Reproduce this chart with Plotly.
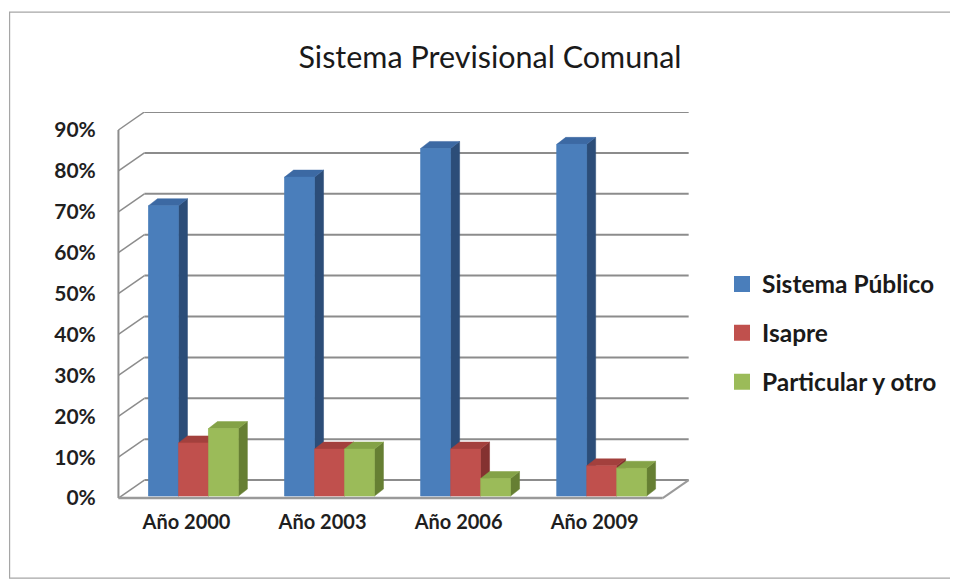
import plotly.graph_objects as go

# ---------------- data ----------------
categories = ["Año 2000", "Año 2003", "Año 2006", "Año 2009"]
series_names = ["Sistema Público", "Isapre", "Particular y otro"]
sistema_publico = [0.71, 0.78, 0.85, 0.86]
isapre = [0.13, 0.115, 0.115, 0.074]
particular = [0.165, 0.115, 0.043, 0.068]
y_tick_values = [0.0, 0.1, 0.2, 0.3, 0.4, 0.5, 0.6, 0.7, 0.8, 0.9]
y_tick_labels = ["0%", "10%", "20%", "30%", "40%", "50%", "60%", "70%", "80%", "90%"]
title_text = "Sistema Previsional Comunal"

# ---------------- styles / geometry ----------------
PAGE_OFF = 8           # default body margin of the html page
FIG_W, FIG_H = 958 - PAGE_OFF, 582 - PAGE_OFF
PX_X = 136.25          # px per category unit (front plane)
PX_Y = 409.0           # px per 1.0 (100%)
ORIGIN_PX = (118 - PAGE_OFF, 498 - PAGE_OFF)  # front-plane origin in figure px
XMIN, XMAX = -0.04, 4.23
YMIN, YMAX = -0.012, 0.944

DXW = 26 / PX_X        # wall / floor depth
DYW = 18 / PX_Y
BAR_W = 30 / PX_X
BAR_SHIFT = 7 / PX_X
BAR_BASE = 2 / PX_Y
BAR_DX = 9 / PX_X
BAR_DY = 7 / PX_Y

FONT = "Lato"
GRID_COLOR = "#8c8c8c"
colors = {
    "front": ["#4A7EBB", "#C0504D", "#9BBB59"],
    "top":   ["#3C69A3", "#A3403D", "#84A247"],
    "side":  ["#2C4D78", "#843130", "#667F33"],
}

L = ORIGIN_PX[0] + XMIN * PX_X
plot_w = (XMAX - XMIN) * PX_X
R = FIG_W - L - plot_w
T = ORIGIN_PX[1] - YMAX * PX_Y
Bpx = ORIGIN_PX[1] - YMIN * PX_Y
B = FIG_H - Bpx
plot_h = Bpx - T

values = [sistema_publico, isapre, particular]
n_cat = len(categories)

fig = go.Figure()

# underlying bar traces (front faces), covered by the 3D faces drawn below
for s, (name, vals) in enumerate(zip(series_names, values)):
    fig.add_trace(go.Bar(
        x=[k + 0.5 + BAR_SHIFT for k in range(n_cat)],
        y=vals, base=BAR_BASE, width=BAR_W, offset=-1.5 * BAR_W + s * BAR_W,
        marker=dict(color=colors["front"][s], line=dict(width=0)),
        name=name, showlegend=False, hoverinfo="skip",
    ))


def poly(points_list):
    xs, ys = [], []
    for pts in points_list:
        for (px, py) in pts:
            xs.append(px)
            ys.append(py)
        xs.append(pts[0][0]); ys.append(pts[0][1])
        xs.append(None); ys.append(None)
    return xs, ys


for s, (name, vals) in enumerate(zip(series_names, values)):
    sides, tops, fronts = [], [], []
    for k, v in enumerate(vals):
        c = k + 0.5 + BAR_SHIFT
        x0 = c - 1.5 * BAR_W + s * BAR_W
        x1 = x0 + BAR_W
        y0 = BAR_BASE
        y1 = BAR_BASE + v
        fronts.append([(x0, y0), (x1, y0), (x1, y1), (x0, y1)])
        tops.append([(x0, y1), (x1, y1), (x1 + BAR_DX, y1 + BAR_DY), (x0 + BAR_DX, y1 + BAR_DY)])
        sides.append([(x1, y0), (x1 + BAR_DX, y0 + BAR_DY), (x1 + BAR_DX, y1 + BAR_DY), (x1, y1)])
    for face, plist in (("side", sides), ("top", tops), ("front", fronts)):
        xs, ys = poly(plist)
        col = colors[face][s]
        fig.add_trace(go.Scatter(
            x=xs, y=ys, mode="lines", fill="toself", fillcolor=col,
            line=dict(color=col, width=0.5), showlegend=False, hoverinfo="skip",
        ))

# legend entries
for s, name in enumerate(series_names):
    fig.add_trace(go.Scatter(
        x=[None], y=[None], mode="markers", name=name, legendgroup=name,
        marker=dict(symbol="square", size=16, color=colors["front"][s]),
    ))

# back wall gridlines and left wall diagonals
for v in y_tick_values:
    fig.add_shape(type="line", xref="x", yref="y", layer="below",
                  x0=DXW, y0=v + DYW, x1=n_cat + DXW, y1=v + DYW,
                  line=dict(color=GRID_COLOR, width=2))
    fig.add_shape(type="line", xref="x", yref="y", layer="below",
                  x0=0, y0=v, x1=DXW, y1=v + DYW,
                  line=dict(color=GRID_COLOR, width=1.5))
# left axis line (front edge of wall)
fig.add_shape(type="line", xref="x", yref="y", layer="below",
              x0=0, y0=0, x1=0, y1=y_tick_values[-1],
              line=dict(color=GRID_COLOR, width=2))
# floor front + right edge
fig.add_shape(type="line", xref="x", yref="y", layer="below",
              x0=0, y0=0, x1=n_cat, y1=0,
              line=dict(color="#9a9a9a", width=2.5))
fig.add_shape(type="line", xref="x", yref="y", layer="below",
              x0=n_cat, y0=0, x1=n_cat + DXW, y1=DYW,
              line=dict(color="#9a9a9a", width=2))

# outer chart border
def px2paper_x(px):
    return (px - PAGE_OFF - L) / plot_w

def px2paper_y(py):
    return (Bpx - (py - PAGE_OFF)) / plot_h

fig.add_shape(type="rect", xref="paper", yref="paper", layer="below",
              x0=px2paper_x(9), x1=px2paper_x(954),
              y0=px2paper_y(578), y1=px2paper_y(12),
              line=dict(color="#a6a6a6", width=1.2))

fig.update_layout(
    width=FIG_W, height=FIG_H,
    margin=dict(l=L, r=R, t=T, b=B, autoexpand=False),
    paper_bgcolor="white", plot_bgcolor="white",
    barmode="overlay",
    title=dict(text=title_text, x=(490 - PAGE_OFF) / FIG_W, y=1 - (57 - PAGE_OFF) / FIG_H,
               xref="container", yref="container",
               xanchor="center", yanchor="middle",
               font=dict(family=FONT, size=30.5, color="#1a1a1a")),
    xaxis=dict(range=[XMIN, XMAX], showgrid=False, zeroline=False, showline=False,
               tickvals=[k + 0.5 for k in range(n_cat)], ticktext=categories,
               ticks="outside", ticklen=1, tickcolor="rgba(0,0,0,0)",
               tickfont=dict(family=FONT, size=20, color="#1f1f1f", weight="bold"),
               fixedrange=True),
    yaxis=dict(range=[YMIN, YMAX], showgrid=False, zeroline=False, showline=False,
               tickvals=y_tick_values, ticktext=y_tick_labels,
               ticks="outside", ticklen=12, tickcolor="rgba(0,0,0,0)",
               tickfont=dict(family=FONT, size=21, color="#1f1f1f", weight="bold"),
               fixedrange=True),
    legend=dict(xref="container", yref="container",
                x=(722 - PAGE_OFF) / FIG_W, y=1 - (333 - PAGE_OFF) / FIG_H,
                xanchor="left", yanchor="middle", tracegroupgap=14,
                itemsizing="trace",
                font=dict(family=FONT, size=24.5, color="#1a1a1a", weight="bold"),
                bgcolor="rgba(0,0,0,0)"),
    showlegend=True,
)

fig.write_html("out.html")
